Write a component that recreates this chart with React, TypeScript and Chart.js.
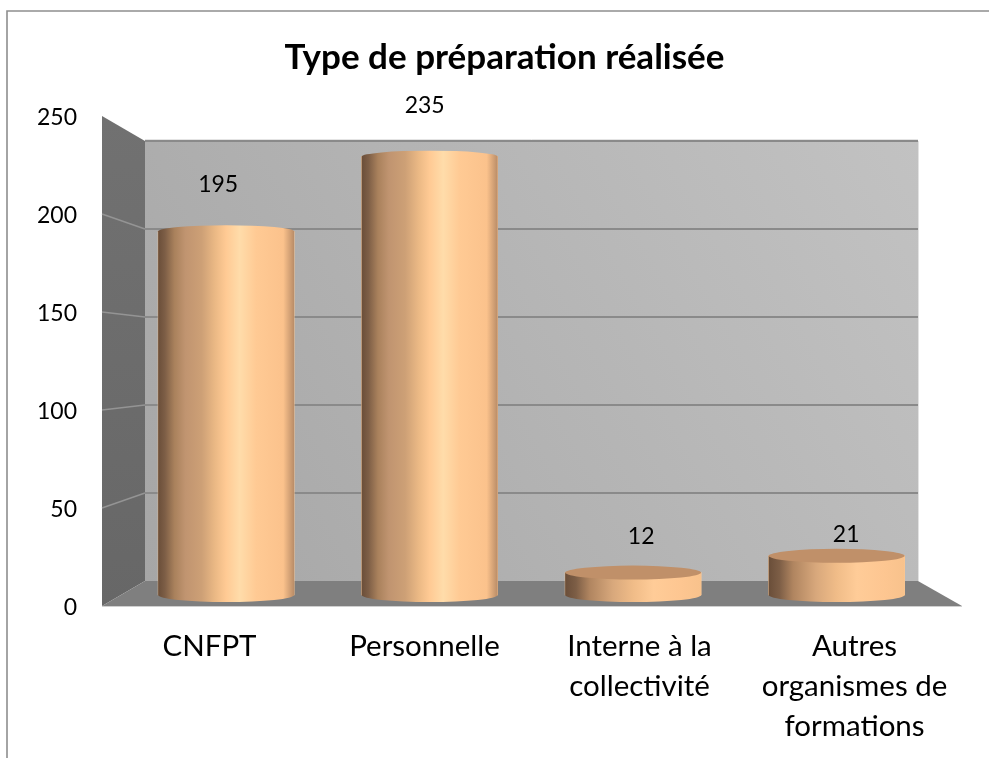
import React, { useEffect, useRef } from "react";
import { Chart, registerables } from "chart.js";

Chart.register(...registerables);

const titleText = "Type de préparation réalisée";
const categories: (string | string[])[] = [
  "CNFPT",
  "Personnelle",
  ["Interne à la", "collectivité"],
  ["Autres", "organismes de", "formations"],
];
const seriesValues = [195, 235, 12, 21];
const seriesPositions = [0, 1, 2, 3];
const yTicks = { min: 0, max: 250, step: 50 };

const FONT = "Lato, Carlito, Calibri, sans-serif";
const TEXT = "#000000";

// depth of the 3D box, in pixels from the front plane
const DEPTH = { left: 43, right: 44, top: 25, bottom: 25 };
// label nudges relative to the cylinder top
const labelNudge = [
  [-8, -47],
  [-5, -51],
  [8, -36],
  [9.5, -21],
];

const tallStops: [number, string][] = [
  [0, "#6a4e39"],
  [0.05, "#7d5e46"],
  [0.12, "#a9815c"],
  [0.2, "#c09470"],
  [0.32, "#cda076"],
  [0.42, "#ebb985"],
  [0.5, "#ffca94"],
  [0.6, "#ffdcaa"],
  [0.72, "#ffca94"],
  [0.92, "#fbc28c"],
  [1, "#b98c67"],
];
const shortStops: [number, string][] = [
  [0, "#6a4e39"],
  [0.08, "#7d5e46"],
  [0.18, "#b08560"],
  [0.35, "#d8a87c"],
  [0.5, "#f0bc88"],
  [0.65, "#ffcc98"],
  [0.85, "#fdc691"],
  [1, "#f8c28c"],
];

const boxPlugin = {
  id: "box3d",
  afterLayout(chart: any) {
    // let the tick labels use the space left of the axis box
    chart.scales.y.left = 0;
  },
  beforeDraw(chart: any) {
    const { ctx } = chart;
    ctx.save();
    ctx.strokeStyle = "#8e8e8e";
    ctx.lineWidth = 1.6;
    ctx.beginPath();
    ctx.moveTo(7, 758);
    ctx.lineTo(7, 11);
    ctx.lineTo(989, 11);
    ctx.stroke();
    ctx.restore();
  },
  beforeDatasetsDraw(chart: any) {
    const { ctx, chartArea: a, scales } = chart;
    const bl = a.left + DEPTH.left;
    const br = a.right - DEPTH.right;
    const bt = a.top + DEPTH.top;
    const bb = a.bottom - DEPTH.bottom;
    const y = scales.y;
    const backY = (v: number) =>
      bb - ((v - y.min) / (y.max - y.min)) * (bb - bt);

    ctx.save();
    // back wall
    const wall = ctx.createLinearGradient(bl, bb, br, bt);
    wall.addColorStop(0, "#a6a6a6");
    wall.addColorStop(1, "#c2c2c2");
    ctx.fillStyle = wall;
    ctx.fillRect(bl, bt, br - bl, bb - bt);
    ctx.strokeStyle = "#e2e2e2";
    ctx.lineWidth = 1;
    ctx.beginPath();
    ctx.moveTo(br + 0.5, bt);
    ctx.lineTo(br + 0.5, bb);
    ctx.stroke();

    // side wall
    const side = ctx.createLinearGradient(0, a.top, 0, a.bottom);
    side.addColorStop(0, "#717171");
    side.addColorStop(1, "#676767");
    ctx.fillStyle = side;
    ctx.beginPath();
    ctx.moveTo(a.left, a.top);
    ctx.lineTo(bl, bt);
    ctx.lineTo(bl, bb);
    ctx.lineTo(a.left, a.bottom);
    ctx.closePath();
    ctx.fill();

    // floor
    ctx.fillStyle = "#7f7f7f";
    ctx.beginPath();
    ctx.moveTo(a.left, a.bottom);
    ctx.lineTo(bl, bb);
    ctx.lineTo(br, bb);
    ctx.lineTo(a.right, a.bottom);
    ctx.closePath();
    ctx.fill();
    ctx.strokeStyle = "#cfcfcf";
    ctx.lineWidth = 1;
    ctx.beginPath();
    ctx.moveTo(a.left, a.bottom + 0.5);
    ctx.lineTo(a.right, a.bottom + 0.5);
    ctx.stroke();

    // gridlines
    y.ticks.forEach((t: any) => {
      if (t.value === y.min) return;
      const yb = backY(t.value);
      const yf = y.getPixelForValue(t.value);
      ctx.strokeStyle = "#8a8a8a";
      ctx.lineWidth = 2;
      ctx.beginPath();
      ctx.moveTo(bl, yb);
      ctx.lineTo(br, yb);
      ctx.stroke();
      if (t.value === y.max) {
        ctx.strokeStyle = "#e4e4e4";
        ctx.lineWidth = 1;
        ctx.beginPath();
        ctx.moveTo(bl, yb - 1.5);
        ctx.lineTo(br, yb - 1.5);
        ctx.stroke();
        return;
      }
      ctx.strokeStyle = "#949494";
      ctx.lineWidth = 1.5;
      ctx.beginPath();
      ctx.moveTo(a.left, yf);
      ctx.lineTo(bl, yb);
      ctx.stroke();
    });
    ctx.restore();
  },
  afterDatasetsDraw(chart: any) {
    const { ctx } = chart;
    const meta = chart.getDatasetMeta(0);
    const RY = 7;
    ctx.save();
    meta.data.forEach((bar: any, i: number) => {
      const { x, y, base, width } = bar.getProps(
        ["x", "y", "base", "width"],
        true
      );
      const rx = width / 2;
      const value = seriesValues[i];
      const tall = value > yTicks.max / 2;
      const g = ctx.createLinearGradient(x - rx, 0, x + rx, 0);
      (tall ? tallStops : shortStops).forEach(([p, c]) =>
        g.addColorStop(p, c)
      );
      // body: side walls with rounded base, and rounded top when seen from below
      ctx.fillStyle = g;
      ctx.beginPath();
      ctx.moveTo(x - rx, y);
      if (tall) ctx.ellipse(x, y, rx, RY - 1, 0, Math.PI, 2 * Math.PI, false);
      else ctx.lineTo(x + rx, y);
      ctx.lineTo(x + rx, base);
      ctx.ellipse(x, base, rx, RY, 0, 0, Math.PI, false);
      ctx.closePath();
      ctx.fill();
      if (!tall) {
        ctx.fillStyle = "#c09069";
        ctx.beginPath();
        ctx.ellipse(x, y, rx, RY, 0, 0, 2 * Math.PI);
        ctx.fill();
      }
      // value label
      ctx.fillStyle = TEXT;
      ctx.font = `23px ${FONT}`;
      ctx.textAlign = "center";
      ctx.textBaseline = "middle";
      ctx.fillText(String(value), x + labelNudge[i][0], y + labelNudge[i][1]);
    });
    ctx.restore();
  },
};

export default function App() {
  const ref = useRef<HTMLCanvasElement | null>(null);

  useEffect(() => {
    if (!ref.current) return;
    const chart = new Chart(ref.current, {
      type: "bar",
      data: {
        labels: categories as any,
        datasets: [
          {
            label: titleText,
            data: seriesValues.map((v, i) => ({ x: seriesPositions[i], y: v })) as any,
            backgroundColor: "#ffcc99",
            borderWidth: 0,
            barThickness: 136,
            xAxisID: "x2",
            yAxisID: "y2",
          },
        ],
      },
      options: {
        responsive: false,
        animation: false,
        layout: { padding: { left: 47, right: 27, top: 0, bottom: 0 } },
        plugins: {
          legend: { display: false },
          tooltip: { enabled: false },
          title: {
            display: true,
            text: titleText,
            color: TEXT,
            font: { family: FONT, size: 35, weight: "bold", lineHeight: 1.2 },
            padding: { top: 37, bottom: 37 },
          },
        },
        scales: {
          x: {
            type: "category",
            offset: true,
            border: { display: false },
            grid: { display: false, drawTicks: false, tickLength: 0 },
            afterFit: (s: any) => {
              s.height = 152;
            },
            ticks: {
              autoSkip: false,
              maxRotation: 0,
              minRotation: 0,
              padding: 20,
              color: TEXT,
              font: { family: FONT, size: 29.5, lineHeight: "40px" },
            },
          },
          y: {
            type: "linear",
            min: yTicks.min,
            max: yTicks.max,
            border: { display: false },
            grid: { display: false, drawTicks: false, tickLength: 0 },
            afterFit: (s: any) => {
              s.width = 55;
            },
            ticks: {
              stepSize: yTicks.step,
              padding: 25,
              labelOffset: 2,
              color: TEXT,
              font: { family: FONT, size: 23 },
            },
          },
          x2: {
            type: "linear",
            display: false,
            offset: false,
            min: -0.61,
            max: 3.616,
            grid: { display: false, offset: false },
          },
          y2: {
            type: "linear",
            display: false,
            min: -5.9,
            max: 256.8,
            grid: { display: false },
          },
        },
      } as any,
      plugins: [boxPlugin],
    });
    return () => chart.destroy();
  }, []);

  return (
    <div style={{ position: "absolute", left: 0, top: 0, width: 989, height: 758, overflow: "hidden", background: "#fff" }}>
      <canvas ref={ref} width={989} height={758} style={{ display: "block" }} />
    </div>
  );
}
